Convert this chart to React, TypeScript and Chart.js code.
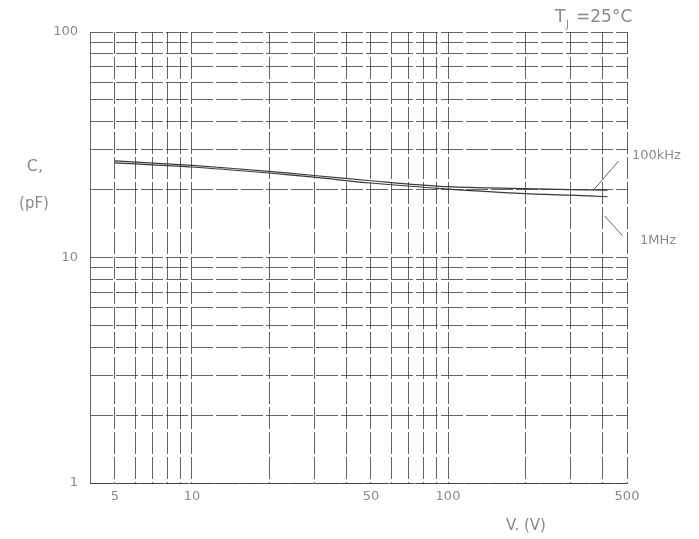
import React, { useEffect, useRef } from "react";
import { Chart, registerables } from "chart.js";

Chart.register(...registerables);

// Reverse voltage (V)
const voltages = [5, 10, 20, 30, 50, 100, 200, 300, 420];
// Junction capacitance (pF)
const c100kHz = [26.8, 25.6, 24.1, 23.1, 21.9, 20.6, 20.2, 20.0, 19.9];
const c1MHz = [26.3, 25.2, 23.7, 22.7, 21.4, 20.1, 19.2, 18.9, 18.6];

const xGridValues = [5, 6, 7, 8, 9, 10, 20, 30, 40, 50, 60, 70, 80, 90, 100, 200, 300, 400, 500];
const xLabelValues = [5, 10, 50, 100, 500];
const yGridValues = [1, 2, 3, 4, 5, 6, 7, 8, 9, 10, 20, 30, 40, 50, 60, 70, 80, 90, 100];
const yLabelValues = [1, 10, 100];

const FONT = "'DejaVu Sans', 'Liberation Sans', sans-serif";
const GRID = "rgba(60,60,60,0.8)";
const TEXT = "#8a8a8a";

const labelsPlugin = {
  id: "labelsPlugin",
  afterDraw(chart: any) {
    const ctx = chart.ctx;
    const xs = chart.scales.x;
    const ys = chart.scales.y;
    ctx.save();
    ctx.fillStyle = TEXT;
    ctx.textBaseline = "middle";
    ctx.textAlign = "center";
    ctx.font = `16px ${FONT}`;
    ctx.fillText("C,", 35, 167);
    ctx.font = `15px ${FONT}`;
    ctx.fillText("(pF)", 34, 204);
    ctx.fillText("V. (V)", 526, 526);

    // Tj = 25°C
    ctx.textAlign = "left";
    ctx.font = `17px ${FONT}`;
    ctx.fillText("T", 555, 18);
    ctx.font = `10px ${FONT}`;
    ctx.fillText("J", 566, 25);
    ctx.font = `17px ${FONT}`;
    ctx.fillText("=25°C", 576, 18);

    // curve labels
    ctx.font = `13px ${FONT}`;
    ctx.fillText("100kHz", 632, 156);
    ctx.fillText("1MHz", 640, 241);

    // leader lines
    ctx.strokeStyle = "#666";
    ctx.lineWidth = 1;
    const ax = xs.getPixelForValue(380);
    const ay1 = ys.getPixelForValue(20.1);
    const ay2 = ys.getPixelForValue(18.4);
    ctx.beginPath();
    ctx.moveTo(ax - 3, ay1 + 1);
    ctx.lineTo(ax + 22, ay1 - 28);
    ctx.moveTo(ax + 8, ay2 + 18);
    ctx.lineTo(ax + 26, ay2 + 38);
    ctx.stroke();
    ctx.restore();
  },
};

export default function App() {
  const ref = useRef<HTMLCanvasElement | null>(null);

  useEffect(() => {
    if (!ref.current) return;
    const chart = new Chart(ref.current, {
      type: "scatter",
      data: {
        datasets: [
          {
            label: "100kHz",
            data: voltages.map((v, i) => ({ x: v, y: c100kHz[i] })),
            showLine: true,
            borderColor: "#3a3a3a",
            borderWidth: 1.2,
            pointRadius: 0,
            tension: 0.3,
          },
          {
            label: "1MHz",
            data: voltages.map((v, i) => ({ x: v, y: c1MHz[i] })),
            showLine: true,
            borderColor: "#3a3a3a",
            borderWidth: 1.2,
            pointRadius: 0,
            tension: 0.3,
          },
        ],
      },
      options: {
        animation: false,
        responsive: false,
        maintainAspectRatio: false,
        layout: { padding: { left: 0, top: 32, right: 72, bottom: 0 } },
        plugins: {
          legend: { display: false },
          tooltip: { enabled: false },
        },
        scales: {
          x: {
            type: "logarithmic",
            min: 4,
            max: 500,
            afterBuildTicks: (s: any) => {
              s.ticks = xGridValues.map((v) => ({ value: v }));
            },
            afterFit: (s: any) => {
              s.height = 56;
            },
            ticks: {
              autoSkip: false,
              maxRotation: 0,
              padding: 6,
              color: TEXT,
              font: { family: FONT, size: 13 },
              callback: (v: any) => (xLabelValues.includes(Number(v)) ? String(v) : ""),
            },
            grid: { color: GRID, lineWidth: 1, drawTicks: false },
            border: { display: true, color: GRID, dash: [22, 3] },
          },
          y: {
            type: "logarithmic",
            min: 1,
            max: 100,
            afterBuildTicks: (s: any) => {
              s.ticks = yGridValues.map((v) => ({ value: v }));
            },
            afterFit: (s: any) => {
              s.width = 90;
            },
            ticks: {
              autoSkip: false,
              padding: 12,
              color: TEXT,
              font: { family: FONT, size: 13 },
              callback: (v: any) => (yLabelValues.includes(Number(v)) ? String(v) : ""),
            },
            grid: { color: GRID, lineWidth: 1, drawTicks: false },
            border: { display: true, color: GRID, dash: [22, 3] },
          },
        },
      },
      plugins: [labelsPlugin],
    } as any);
    return () => chart.destroy();
  }, []);

  return (
    <div style={{ position: "fixed", left: 0, top: 0, width: 699, height: 539, background: "#fff" }}>
      <canvas ref={ref} width={699} height={539} style={{ width: 699, height: 539 }} />
    </div>
  );
}
